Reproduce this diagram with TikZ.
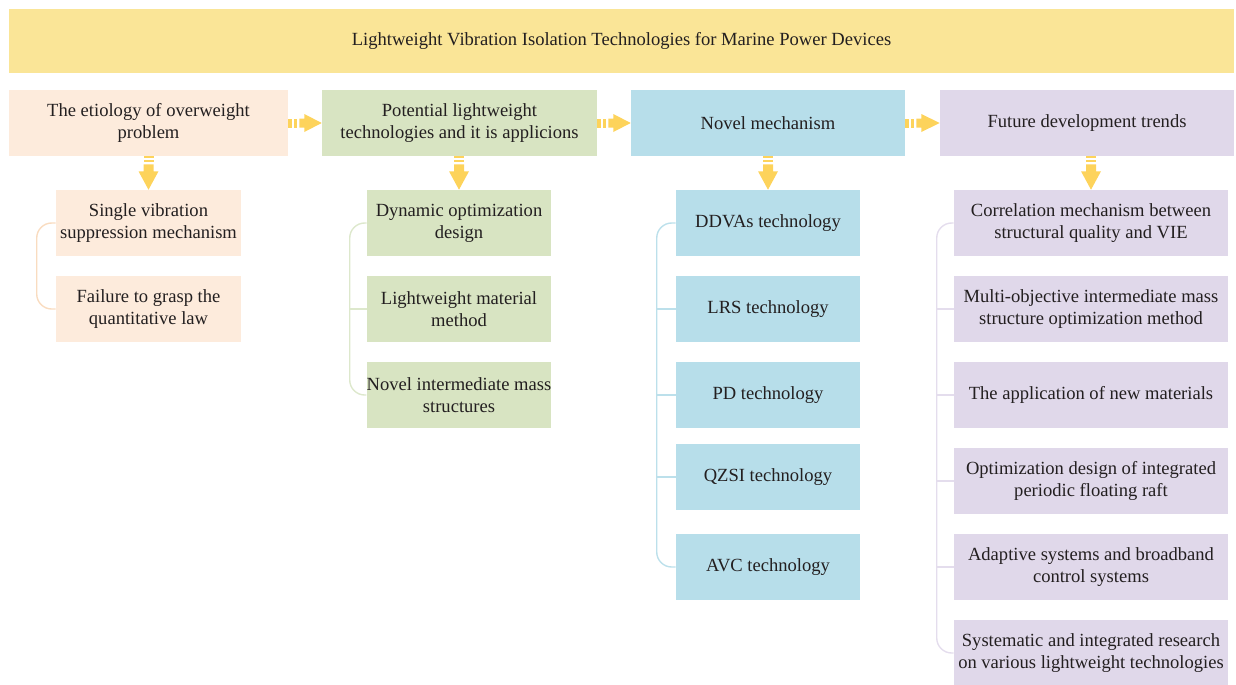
\documentclass[tikz,border=0pt]{standalone}
\usepackage{fontspec}
\setmainfont{Liberation Serif}
\usepackage{tikz}
\usetikzlibrary{calc}
\definecolor{titlefill}{HTML}{FAE597}
\definecolor{peach}{HTML}{FDEBDC}
\definecolor{peachline}{HTML}{F9DCC0}
\definecolor{sage}{HTML}{D8E4C2}
\definecolor{sageline}{HTML}{DDE8CC}
\definecolor{sky}{HTML}{B7DEEA}
\definecolor{skyline}{HTML}{BCE0EB}
\definecolor{lilac}{HTML}{E0D8EA}
\definecolor{lilacline}{HTML}{E4DDED}
\definecolor{arrowyellow}{HTML}{FDD35B}
\definecolor{darktext}{HTML}{231F20}
\def\u{0.025cm}

% striped block arrow, left to right
\newcommand{\rightarr}[2]{%
  \fill[arrowyellow] ($(#1.east)+(0,-4.5)$) rectangle ++(4,9);
  \fill[arrowyellow] ($(#1.east)+(6,-4.5)$) rectangle ++(3,9);
  \fill[arrowyellow] ($(#1.east)+(11,-4.5)$) -- ++(5,0) -- ++(0,-4.5) -- (#2.west)
    -- ($(#1.east)+(16,9)$) -- ++(0,-4.5) -- ++(-5,0) -- cycle;
}
% striped block arrow, top to bottom
\newcommand{\downarr}[2]{%
  \coordinate (arrtop) at (#2.north |- #1.south);
  \fill[arrowyellow] ($(arrtop)+(-5,0)$) rectangle ++(10,2);
  \fill[arrowyellow] ($(arrtop)+(-5,4)$) rectangle ++(10,2);
  \fill[arrowyellow] ($(arrtop)+(-5,8)$) -- ++(0,7) -- ++(-5,0) -- (#2.north)
    -- ($(arrtop)+(10,15)$) -- ++(-5,0) -- ++(0,-7) -- cycle;
}

\tikzset{
  every node/.style={font=\fontsize{13.2}{15.6}\selectfont, text=darktext, align=center, inner sep=0pt},
  titlebox/.style={fill=titlefill, minimum width=1225*\u, minimum height=64*\u},
  headbox/.style={minimum height=66*\u},
  peachbox/.style={fill=peach, minimum width=185*\u, minimum height=66*\u},
  sagebox/.style={fill=sage, minimum width=184*\u, minimum height=66*\u},
  skybox/.style={fill=sky, minimum width=184*\u, minimum height=66*\u},
  lilacbox/.style={fill=lilac, minimum width=274*\u, minimum height=66*\u},
  bracket/.style={line width=1.4*\u, rounded corners=15*\u},
}

\begin{document}
\begin{tikzpicture}[x=\u, y=-\u]
  \useasboundingbox (0,0) rectangle (1236,684);

  % Title
  \node[titlebox] (title) at (621.5,41) {Lightweight Vibration Isolation Technologies for Marine Power Devices};

  % Column heads
  \node[headbox, fill=peach, minimum width=279*\u] (etiology) at (148.5,123) {The etiology of overweight\\problem};
  \node[headbox, fill=sage, minimum width=275*\u] (potential) at (459.5,123) {Potential lightweight\\technologies and it is applicions};
  \node[headbox, fill=sky, minimum width=274*\u] (novel) at (768,123) {Novel mechanism};
  \node[headbox, fill=lilac, minimum width=294*\u] (future) at (1087,123) {Future development trends};

  % Etiology items
  \node[peachbox] (single) at (148.5,223) {Single vibration\\suppression mechanism};
  \node[peachbox] (failure) at (148.5,309) {Failure to grasp the\\quantitative law};

  % Lightweight technologies
  \node[sagebox] (dynamic) at (459,223) {Dynamic optimization\\design};
  \node[sagebox] (material) at (459,309) {Lightweight material\\method};
  \node[sagebox] (structure) at (459,395) {Novel intermediate mass\\structures};

  % Novel mechanisms
  \node[skybox] (ddvas) at (768,223) {DDVAs technology};
  \node[skybox] (lrs) at (768,309) {LRS technology};
  \node[skybox] (pd) at (768,395) {PD technology};
  \node[skybox] (qzsi) at (768,477) {QZSI technology};
  \node[skybox] (avc) at (768,567) {AVC technology};

  % Future trends
  \node[lilacbox] (correlation) at (1091,223) {Correlation mechanism between\\structural quality and VIE};
  \node[lilacbox] (multi) at (1091,309) {Multi-objective intermediate mass\\structure optimization method};
  \node[lilacbox] (newmat) at (1091,395) {The application of new materials};
  \node[lilacbox] (raft) at (1091,481) {Optimization design of integrated\\periodic floating raft};
  \node[lilacbox] (adaptive) at (1091,567) {Adaptive systems and broadband\\control systems};
  \node[lilacbox] (systematic) at (1091,653) {Systematic and integrated research\\on various lightweight technologies};

  % Arrows between heads
  \rightarr{etiology}{potential}
  \rightarr{potential}{novel}
  \rightarr{novel}{future}

  % Arrows down to the items
  \downarr{etiology}{single}
  \downarr{potential}{dynamic}
  \downarr{novel}{ddvas}
  \downarr{future}{correlation}

  % Brackets
  \draw[bracket, peachline] (single.west) -- ++(-19,0) |- (failure.west);
  \draw[bracket, sageline] (dynamic.west) -- ++(-17,0) |- (structure.west);
  \draw[sageline, line width=1.4*\u] (material.west) -- ++(-17,0);
  \draw[bracket, skyline] (ddvas.west) -- ++(-19,0) |- (avc.west);
  \foreach \n in {lrs, pd, qzsi}
    \draw[skyline, line width=1.4*\u] (\n.west) -- ++(-19,0);
  \draw[bracket, lilacline] (correlation.west) -- ++(-17,0) |- (systematic.west);
  \foreach \n in {multi, newmat, raft, adaptive}
    \draw[lilacline, line width=1.4*\u] (\n.west) -- ++(-17,0);
\end{tikzpicture}
\end{document}
